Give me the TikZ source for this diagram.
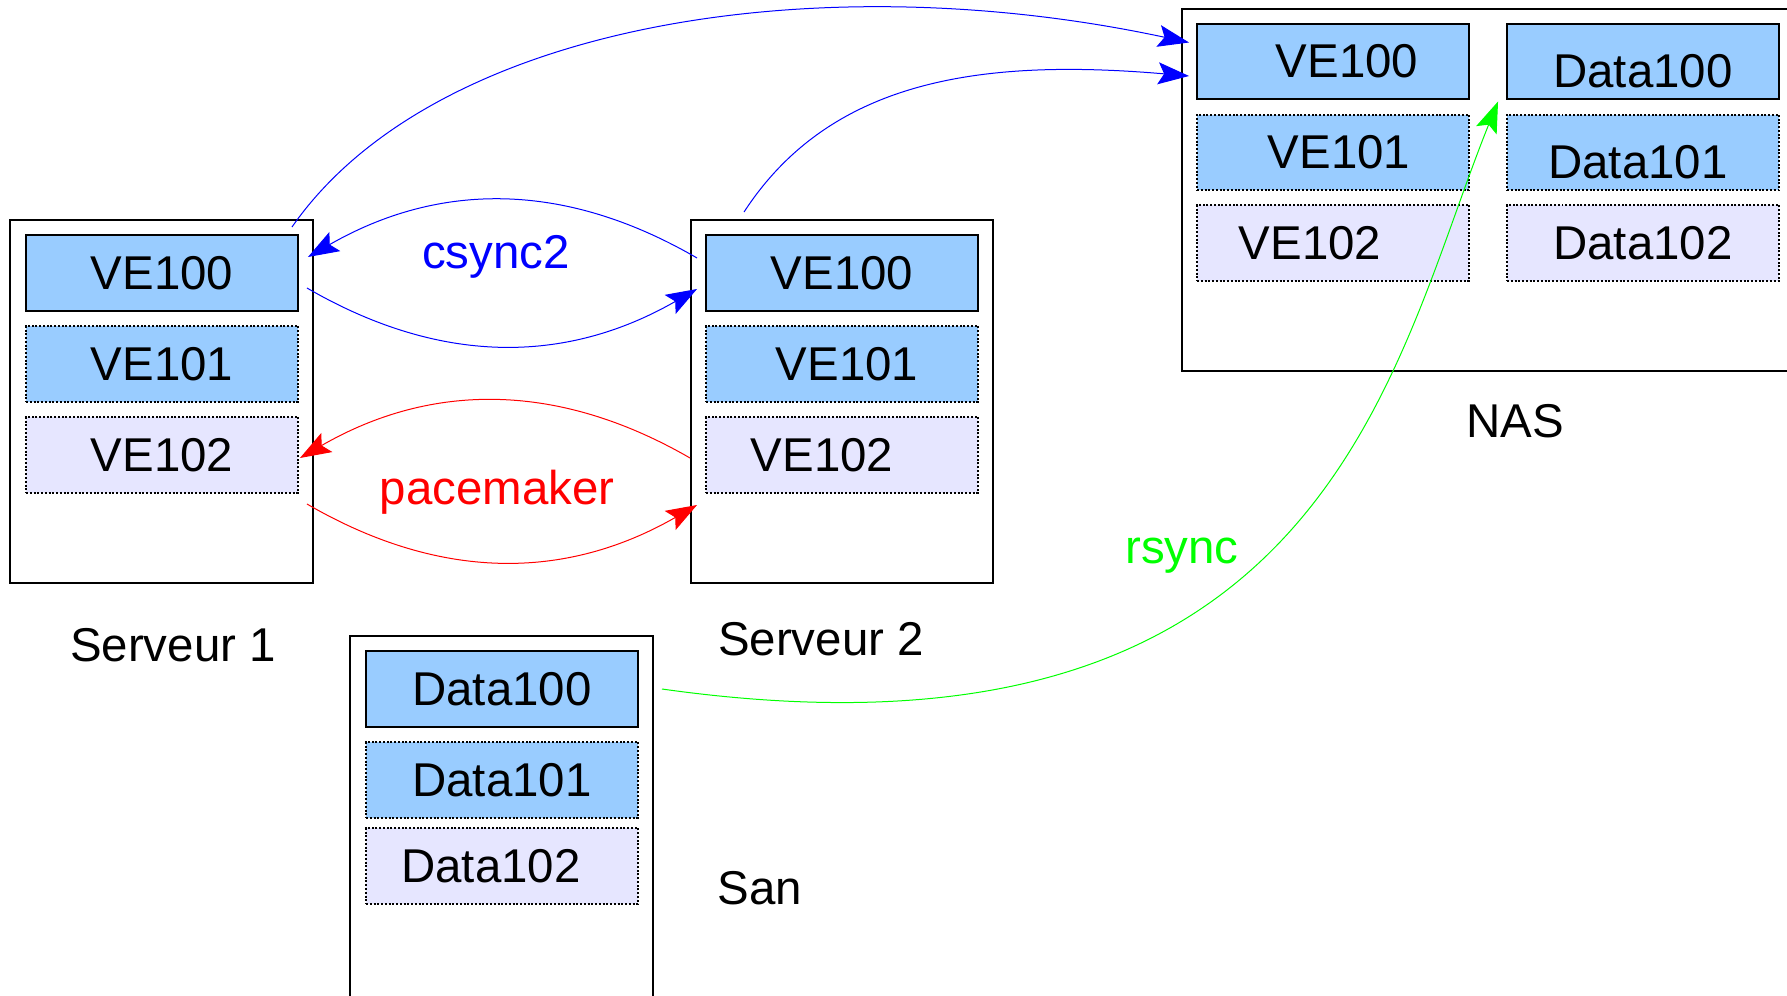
\documentclass[tikz,border=0pt]{standalone}
\usepackage{fontspec}
\setmainfont{Liberation Sans}
\usetikzlibrary{arrows.meta,calc}

\definecolor{veblue}{HTML}{99CCFF}
\definecolor{velilac}{HTML}{E6E6FF}

\begin{document}
\begin{tikzpicture}[x=0.02cm,y=-0.02cm,
	machine/.style={draw,line width=0.04cm,minimum width=6.06cm,minimum height=7.26cm,inner sep=0pt},
	ve/.style={draw,line width=0.04cm,fill=veblue,minimum width=5.44cm,minimum height=1.52cm,inner sep=0pt,font=\fontsize{27}{32}\selectfont},
	ve off/.style={ve,densely dotted,fill=#1},
	lien/.style={line width=0.02cm,-{Stealth[length=0.62cm,width=0.44cm,inset=0.12cm]}},
	legende/.style={font=\fontsize{27}{32}\selectfont},
	protocole/.style={font=\fontsize{27}{32}\selectfont,anchor=base}]
	\useasboundingbox (0,0) rectangle (1787,996);

	% les machines
	\node[machine] (srv1) at (161.5,401.5) {};
	\node[machine] (srv2) at (842,401.5) {};
	\node[machine,minimum width=12.36cm,minimum height=7.24cm] (nas) at (1491,190) {};
	\node[machine,minimum height=7.48cm] (san) at (501.5,823) {};

	% Serveur 1
	\node[ve] (s1a) at (162,273) {VE100};
	\node[ve off=veblue] (s1b) at (162,364) {VE101};
	\node[ve off=velilac] (s1c) at (162,455) {VE102};

	% Serveur 2
	\node[ve] (s2a) at (842,273) {VE100};
	\node[ve off=veblue] (s2b) at (842,364) {\hspace*{0.2cm}VE101};
	\node[ve off=velilac] (s2c) at (842,455) {VE102\hspace*{0.8cm}};

	% NAS
	\node[ve] (n1a) at (1333,61.5) {\hspace*{0.56cm}VE100};
	\node[ve off=veblue] (n1b) at (1333,152.5) {\hspace*{0.24cm}VE101};
	\node[ve off=velilac] (n1c) at (1333,243) {VE102\hspace*{0.92cm}};
	\node[ve,text height=1.04cm] (n2a) at (1643,61.5) {Data100};
	\node[ve off=veblue,text height=1.04cm] (n2b) at (1643,152.5) {Data101\hspace*{0.2cm}};
	\node[ve off=velilac] (n2c) at (1643,243) {Data102};

	% San
	\node[ve] (d1a) at (502,689) {Data100};
	\node[ve off=veblue] (d1b) at (502,780) {Data101};
	\node[ve off=velilac] (d1c) at (502,866) {Data102\hspace*{0.44cm}};

	\node[legende] (l1) at (173,645) {Serveur 1};
	\node[legende] (l2) at (821,639) {Serveur 2};
	\node[legende] (l3) at (1515,421) {NAS};
	\node[legende] (l4) at (760,888) {San};

	% csync2 et pacemaker entre les deux serveurs
	\draw[lien,blue] ($(s2a.west)+(-8,-15)$) to[bend right=30] ($(s1a.east)+(9,-16)$);
	\draw[lien,blue] ($(s1a.east)+(8,15)$) to[bend right=30] ($(s2a.west)+(-8,16)$);
	\draw[lien,red] ($(s2c.west)+(-15,3)$) to[bend right=30] ($(s1c.east)+(1,3)$);
	\draw[lien,red] ($(s1c.east)+(8,49)$) to[bend right=30] ($(s2c.west)+(-8,50)$);
	\node[protocole,text=blue] (csync) at (496,269) {csync2};
	\node[protocole,text=red] (pace) at (497,504) {pacemaker};

	% vers le NAS
	\draw[lien,blue] ($(srv1.north east)+(-22,8)$) .. controls (434,23) and (818,-37) .. ($(n1a.west)+(-7,-19)$);
	\draw[lien,blue] ($(srv2.north)+(-98,-7)$) .. controls (830,80) and (980,58) .. ($(n1a.west)+(-7,14.5)$);
	\draw[lien,green] ($(d1a.east)+(23,0)$) .. controls (1329,783) and (1391,366) .. ($(n2a.south west)+(-8,1)$);
	\node[protocole,text=green] (rsync) at (1182,563) {rsync};
\end{tikzpicture}
\end{document}
